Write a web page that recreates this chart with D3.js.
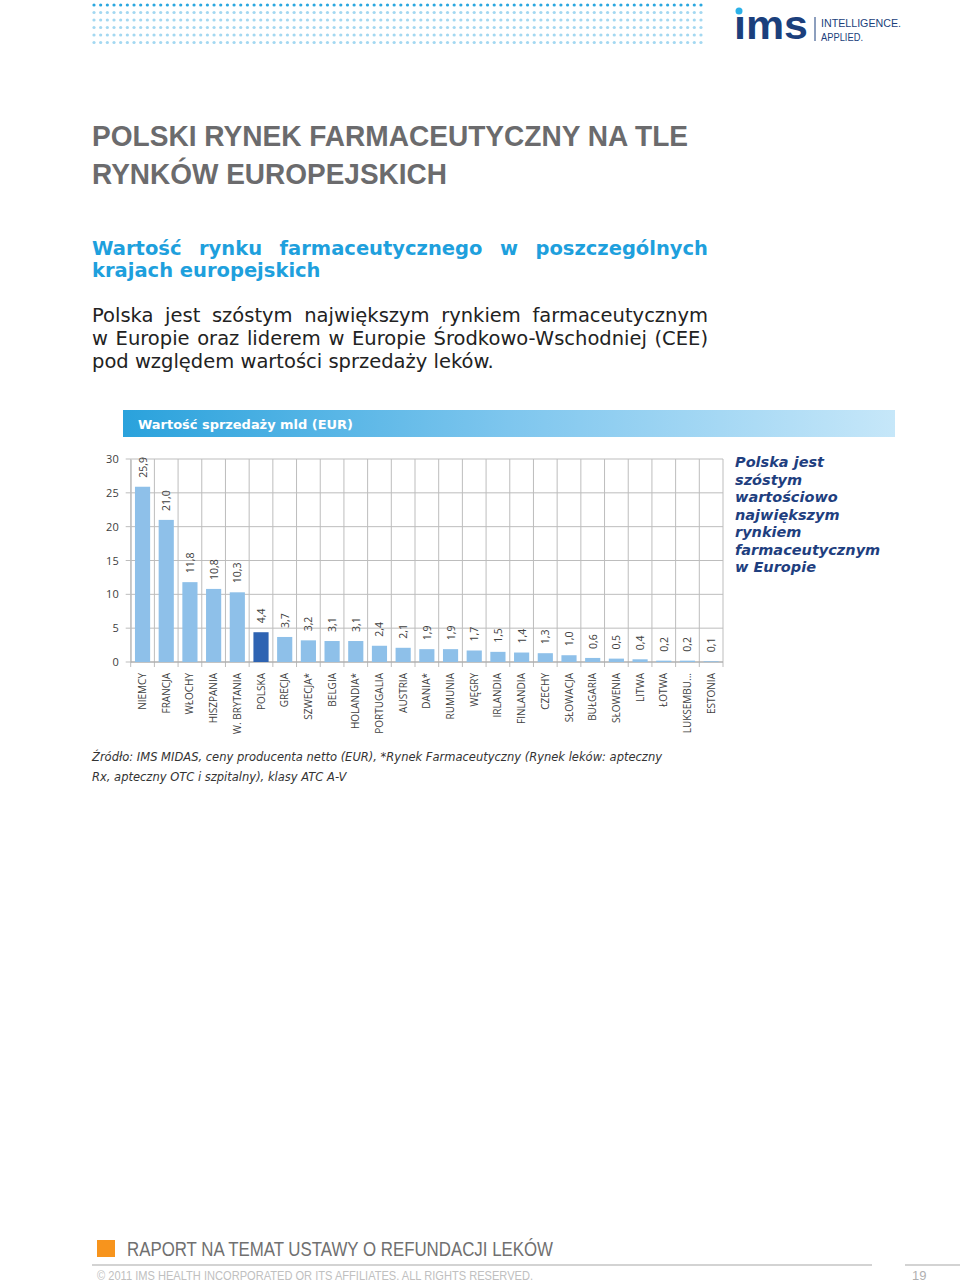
<!DOCTYPE html>
<html><head><meta charset="utf-8">
<script src="https://cdn.jsdelivr.net/npm/d3@7"></script>
<style>body{margin:0;background:#fff}svg{display:block}</style>
</head><body>
<svg id="c" width="960" height="1282"></svg>
<script>
// ---------- data ----------
const categories = ["NIEMCY","FRANCJA","WŁOCHY","HISZPANIA","W. BRYTANIA","POLSKA","GRECJA","SZWECJA*","BELGIA","HOLANDIA*","PORTUGALIA","AUSTRIA","DANIA*","RUMUNIA","WĘGRY","IRLANDIA","FINLANDIA","CZECHY","SŁOWACJA","BUŁGARIA","SŁOWENIA","LITWA","ŁOTWA","LUKSEMBU...","ESTONIA"];
const values = [25.9,21.0,11.8,10.8,10.3,4.4,3.7,3.2,3.1,3.1,2.4,2.1,1.9,1.9,1.7,1.5,1.4,1.3,1.0,0.6,0.5,0.4,0.2,0.2,0.1];
const highlighted = ["POLSKA"];
const yTicks = [0,5,10,15,20,25,30];
const chartTitle = "Wartość sprzedaży mld (EUR)";
const noteLines = ["Polska jest","szóstym","wartościowo","największym","rynkiem","farmaceutycznym","w Europie"];

const svg = d3.select("#c");
const fmt = v => d3.format(".1f")(v).replace(".", ",");

// ---------- header dots ----------
const dots = svg.append("g");
for (let r = 0; r < 6; r++) {
  for (let c = 0; c < 92; c++) {
    dots.append("circle").attr("cx", 94 + c * 6.67).attr("cy", 5 + r * 7.5).attr("r", 1.6)
      .attr("fill", r === 0 ? "#2aa7df" : "#a3d8f1");
  }
}
// ---------- logo ----------
svg.append("text").attr("x", 734).attr("y", 39).attr("font-family", "Liberation Sans").attr("font-weight", "bold")
  .attr("font-size", 40).attr("fill", "#1b3f7c").attr("textLength", 74).attr("lengthAdjust", "spacingAndGlyphs").text("ıms");
svg.append("circle").attr("cx", 739).attr("cy", 11).attr("r", 3.5).attr("fill", "#2cb1e8");
svg.append("line").attr("x1", 815).attr("x2", 815).attr("y1", 17).attr("y2", 41).attr("stroke", "#1b3f7c").attr("stroke-width", 1);
svg.append("text").attr("x", 821).attr("y", 27).attr("font-family", "Liberation Sans").attr("font-size", 11.5)
  .attr("fill", "#1b3f7c").attr("textLength", 80).attr("lengthAdjust", "spacingAndGlyphs").text("INTELLIGENCE.");
svg.append("text").attr("x", 821).attr("y", 41).attr("font-family", "Liberation Sans").attr("font-size", 11.5)
  .attr("fill", "#1b3f7c").attr("textLength", 42).attr("lengthAdjust", "spacingAndGlyphs").text("APPLIED.");

// ---------- titles ----------
function txt(x, y, s, o) {
  const t = svg.append("text").attr("x", x).attr("y", y).text(s);
  for (const k in o) t.attr(k, o[k]);
  return t;
}
const titleStyle = {"font-family": "Liberation Sans", "font-weight": "bold", "font-size": 29, "fill": "#6b6b6d", "lengthAdjust": "spacingAndGlyphs"};
txt(92, 146, "POLSKI RYNEK FARMACEUTYCZNY NA TLE", Object.assign({textLength: 596}, titleStyle));
txt(92, 184, "RYNKÓW EUROPEJSKICH", Object.assign({textLength: 355}, titleStyle));

function justify(s, x0, x1, y, o) {
  const words = s.split(" ");
  const nodes = words.map(w => txt(0, y, w, o));
  const widths = nodes.map(n => n.node().getComputedTextLength());
  const gap = (x1 - x0 - d3.sum(widths)) / (words.length - 1);
  let x = x0;
  nodes.forEach((n, i) => { n.attr("x", x); x += widths[i] + gap; });
}
const subStyle = {"font-family": "DejaVu Sans", "font-weight": "bold", "font-size": 19.5, "fill": "#1ea0dd"};
justify("Wartość rynku farmaceutycznego w poszczególnych", 92, 708, 255, subStyle);
txt(92, 277, "krajach europejskich", subStyle);
const parStyle = {"font-family": "DejaVu Sans", "font-size": 19.5, "fill": "#222"};
justify("Polska jest szóstym największym rynkiem farmaceutycznym", 92, 708, 322, parStyle);
justify("w Europie oraz liderem w Europie Środkowo-Wschodniej (CEE)", 92, 708, 345, parStyle);
txt(92, 368, "pod względem wartości sprzedaży leków.", parStyle);

// ---------- chart header band ----------
const defs = svg.append("defs");
const grad = defs.append("linearGradient").attr("id", "band").attr("x1", "0").attr("x2", "1").attr("y1", "0").attr("y2", "0");
grad.append("stop").attr("offset", "0").attr("stop-color", "#2aa2dc");
grad.append("stop").attr("offset", "0.5").attr("stop-color", "#7ec6ee");
grad.append("stop").attr("offset", "1").attr("stop-color", "#c6e7f9");
svg.append("rect").attr("x", 123).attr("y", 410).attr("width", 772).attr("height", 27).attr("fill", "url(#band)");
txt(138, 429, chartTitle, {"font-family": "DejaVu Sans", "font-weight": "bold", "font-size": 13, "fill": "#fff", textLength: 215, lengthAdjust: "spacingAndGlyphs"});

// ---------- chart ----------
const X0 = 130.7, X1 = 723, Y0 = 662, Y1 = 459;
const x = d3.scaleBand().domain(categories).range([X0, X1]).paddingInner(0.36).paddingOuter(0.18);
const y = d3.scaleLinear().domain([0, 30]).range([Y0, Y1]);
const step = x.step();
const grid = "#bdbdbd";
const g = svg.append("g");

// horizontal gridlines
g.selectAll("line.h").data(yTicks).join("line").attr("class", "h")
  .attr("x1", X0 - 5).attr("x2", X1).attr("y1", d => y(d)).attr("y2", d => y(d))
  .attr("stroke", grid).attr("stroke-width", 1);
// vertical gridlines at category boundaries
const bounds = categories.map(c => x(c) - x.paddingInner() * step / 2).concat([X1]);
g.selectAll("line.v").data(bounds).join("line").attr("class", "v")
  .attr("x1", d => d).attr("x2", d => d).attr("y1", Y1).attr("y2", Y0 + 5)
  .attr("stroke", grid).attr("stroke-width", 1);

// y axis labels
const yAxis = d3.axisLeft(y).tickValues(yTicks).tickSize(0).tickPadding(12).tickFormat(d3.format("d"));
const ya = g.append("g").attr("transform", `translate(${X0},0)`).call(yAxis);
ya.select(".domain").attr("stroke", grid);
ya.selectAll("text").attr("font-family", "Open Sans").attr("font-size", 11).attr("fill", "#404040");

// x axis line
g.append("line").attr("x1", X0).attr("x2", X1).attr("y1", Y0).attr("y2", Y0).attr("stroke", "#a8a8a8");

// bars
g.selectAll("rect.bar").data(categories).join("rect").attr("class", "bar")
  .attr("x", d => x(d)).attr("width", x.bandwidth())
  .attr("y", (d, i) => y(values[i])).attr("height", (d, i) => Y0 - y(values[i]))
  .attr("fill", d => highlighted.includes(d) ? "#2e63b2" : "#8ec0e9");

// value labels
g.selectAll("text.val").data(categories).join("text").attr("class", "val")
  .attr("transform", (d, i) => `translate(${x(d) + x.bandwidth() / 2 + 4},${y(values[i]) - 9}) rotate(-90)`)
  .attr("font-family", "Open Sans").attr("font-size", 10.5).attr("fill", "#404040")
  .text((d, i) => fmt(values[i]));

// category labels
g.selectAll("text.cat").data(categories).join("text").attr("class", "cat")
  .attr("transform", d => `translate(${x(d) + x.bandwidth() / 2 + 3.5},673) rotate(-90)`)
  .attr("text-anchor", "end")
  .attr("font-family", "Open Sans").attr("font-size", 10).attr("fill", "#404040")
  .text(d => d);

// side note
noteLines.forEach((s, i) => txt(735, 467 + i * 17.5, s, {"font-family": "DejaVu Sans", "font-weight": "bold", "font-style": "italic", "font-size": 14.5, "fill": "#1f3f7f"}));

// source
const srcStyle = {"font-family": "DejaVu Sans", "font-style": "italic", "font-size": 11.5, "fill": "#333"};
txt(92, 761, "Źródło: IMS MIDAS, ceny producenta netto (EUR), *Rynek Farmaceutyczny (Rynek leków: apteczny", Object.assign({textLength: 570, lengthAdjust: "spacingAndGlyphs"}, srcStyle));
txt(92, 781, "Rx, apteczny OTC i szpitalny), klasy ATC A-V", srcStyle);

// ---------- footer ----------
svg.append("rect").attr("x", 97).attr("y", 1240).attr("width", 18).attr("height", 17).attr("fill", "#f7941d");
txt(127, 1256, "RAPORT NA TEMAT USTAWY O REFUNDACJI LEKÓW", {"font-family": "Liberation Sans", "font-size": 20, "fill": "#707070", textLength: 426, lengthAdjust: "spacingAndGlyphs"});
svg.append("line").attr("x1", 92).attr("x2", 872).attr("y1", 1265).attr("y2", 1265).attr("stroke", "#c4c4c4").attr("stroke-width", 1.5);
svg.append("line").attr("x1", 905).attr("x2", 960).attr("y1", 1265).attr("y2", 1265).attr("stroke", "#c4c4c4").attr("stroke-width", 1.5);
txt(97, 1280, "© 2011 IMS HEALTH INCORPORATED OR ITS AFFILIATES. ALL RIGHTS RESERVED.", {"font-family": "Liberation Sans", "font-size": 13, "fill": "#c0c0c0", textLength: 436, lengthAdjust: "spacingAndGlyphs"});
txt(912, 1280, "19", {"font-family": "Liberation Sans", "font-size": 13, "fill": "#b0b0b0"});
</script>
</body></html>
